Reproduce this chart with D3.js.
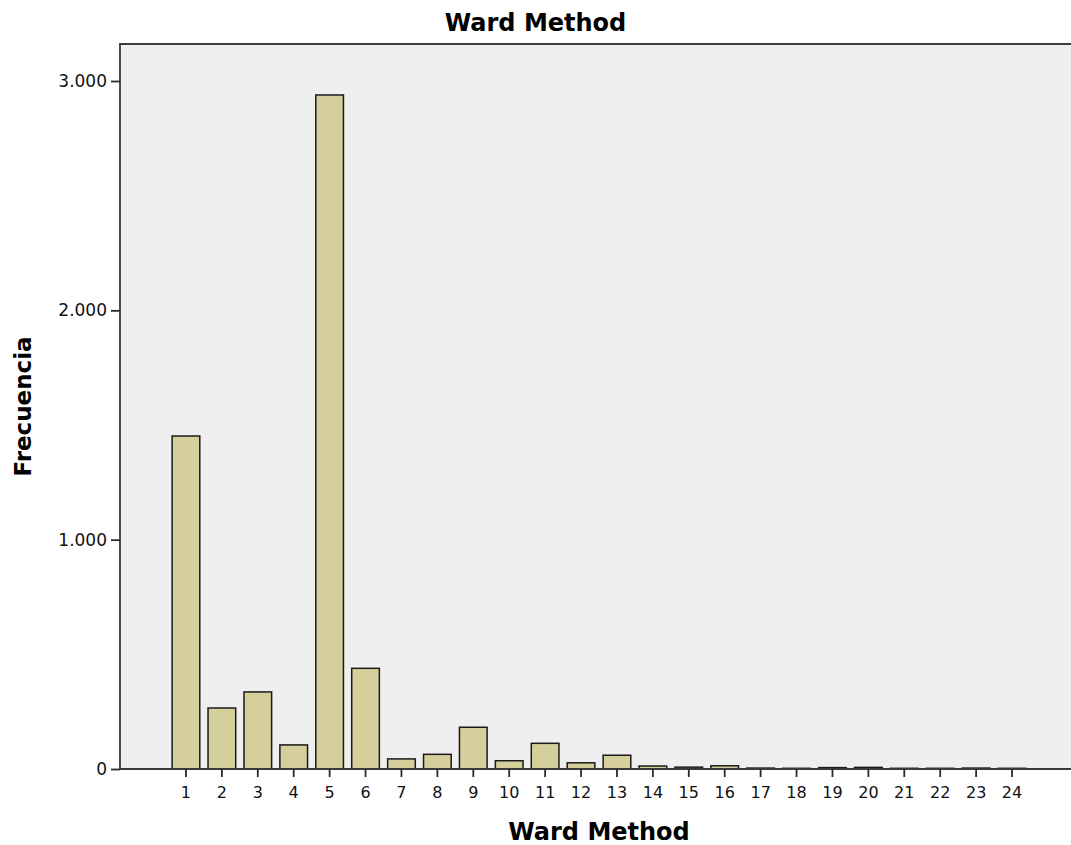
<!DOCTYPE html>
<html>
<head>
<meta charset="utf-8">
<script src="https://cdn.jsdelivr.net/npm/d3@7"></script>
<style>
body { margin: 0; background: #fff; }
svg text { font-family: "DejaVu Sans", sans-serif; }
</style>
</head>
<body>
<svg width="1071" height="845"></svg>
<script>
// datos del gráfico
var categories = ["1","2","3","4","5","6","7","8","9","10","11","12","13","14","15","16","17","18","19","20","21","22","23","24"];
var counts = [1452, 266, 336, 105, 2939, 439, 44, 64, 182, 36, 112, 27, 60, 13, 8, 14, 4, 3, 6, 7, 3, 3, 4, 3];
var yTicks = [0, 1000, 2000, 3000];
var yTickLabels = ["0", "1.000", "2.000", "3.000"];

//constantes del canvas
var width = 1071;
var height = 845;
var plotLeft = 120, plotTop = 44, plotBottom = 769, plotRight = 1071;

var svg = d3.select("svg");

var x = d3.scaleBand()
    .domain(categories)
    .range([168, 1030])
    .paddingInner(0.23)
    .paddingOuter(0.115);

var y = d3.scaleLinear()
    .domain([0, 3000])
    .range([plotBottom, 81]);

// fondo
svg.append("rect")
    .attr("x", plotLeft).attr("y", plotTop)
    .attr("width", plotRight - plotLeft + 5).attr("height", plotBottom - plotTop)
    .attr("fill", "#efefef");

// barras
svg.selectAll("rect.bar")
    .data(counts)
    .enter().append("rect")
    .attr("class", "bar")
    .attr("x", function(d, i) { return x(categories[i]); })
    .attr("y", function(d) { return y(d); })
    .attr("width", x.bandwidth())
    .attr("height", function(d) { return plotBottom - y(d); })
    .attr("fill", "#d4cf9b")
    .attr("stroke", "#1a1a1a")
    .attr("stroke-width", 1.5);

// marco
svg.append("path")
    .attr("d", "M" + (plotRight + 5) + " " + plotTop + " L" + plotLeft + " " + plotTop +
        " L" + plotLeft + " " + plotBottom + " L" + (plotRight + 5) + " " + plotBottom)
    .attr("fill", "none")
    .attr("stroke", "#3a3a3a")
    .attr("stroke-width", 1.8);

// eje y
var yAxis = d3.axisLeft(y)
    .tickValues(yTicks)
    .tickFormat(function(d, i) { return yTickLabels[i]; })
    .tickSize(9)
    .tickPadding(4);
var gy = svg.append("g")
    .attr("transform", "translate(" + plotLeft + ",0)")
    .call(yAxis);
gy.select(".domain").remove();
gy.selectAll(".tick line").attr("stroke", "#2a2a2a").attr("stroke-width", 1.8);
gy.selectAll(".tick text")
    .attr("font-size", 17)
    .attr("fill", "#111")
    .style("font-family", "\"DejaVu Sans\", sans-serif");

// eje x
var xAxis = d3.axisBottom(x).tickSize(8).tickPadding(10);
var gx = svg.append("g")
    .attr("transform", "translate(0," + plotBottom + ")")
    .call(xAxis);
gx.select(".domain").remove();
gx.selectAll(".tick line").attr("stroke", "#2a2a2a").attr("stroke-width", 1.8);
gx.selectAll(".tick text")
    .attr("font-size", 16)
    .attr("fill", "#111")
    .style("font-family", "\"DejaVu Sans\", sans-serif");

// títulos
svg.append("text")
    .attr("x", width / 2).attr("y", 31)
    .attr("text-anchor", "middle")
    .attr("font-size", 24)
    .attr("font-weight", "bold")
    .text("Ward Method");

svg.append("text")
    .attr("x", (168 + 1030) / 2).attr("y", 840)
    .attr("text-anchor", "middle")
    .attr("font-size", 24)
    .attr("font-weight", "bold")
    .text("Ward Method");

svg.append("text")
    .attr("transform", "translate(31," + ((plotTop + plotBottom) / 2) + ") rotate(-90)")
    .attr("text-anchor", "middle")
    .attr("font-size", 23)
    .attr("font-weight", "bold")
    .text("Frecuencia");
</script>
</body>
</html>
